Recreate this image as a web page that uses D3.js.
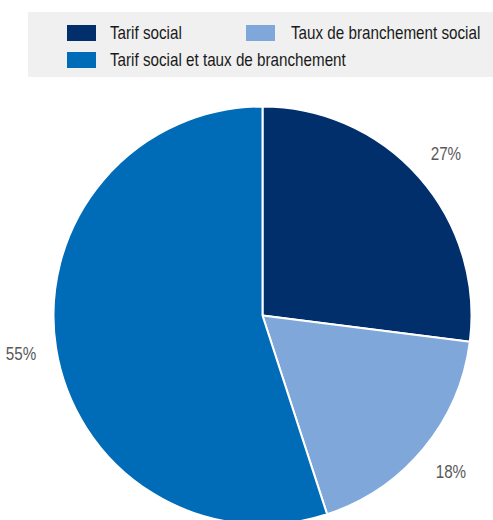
<!DOCTYPE html>
<html>
<head>
<meta charset="utf-8">
<script src="https://cdn.jsdelivr.net/npm/d3@7"></script>
<style>
  html, body { margin: 0; padding: 0; background: #ffffff; }
  svg { display: block; font-family: "Liberation Sans", Arial, sans-serif; }
</style>
</head>
<body>
<svg id="chart" width="493" height="520"></svg>
<script>
// Share of schemes by type of social measure
const categories = ["Tarif social", "Taux de branchement social", "Tarif social et taux de branchement"];
const shares = [27, 18, 55];
const colors = ["#002F6C", "#7FA7D9", "#006BB6"];

const svg = d3.select("#chart");
const W = 493, H = 520;
const narrow = 0.845; // condensed lettering

// Legend panel
const legend = svg.append("g");
legend.append("rect")
  .attr("x", 28).attr("y", 12)
  .attr("width", W - 28).attr("height", 65)
  .attr("fill", "#F0F0F0");

const legendPos = [
  { sx: 67, sy: 25, tx: 110, ty: 39 },
  { sx: 246, sy: 25, tx: 291, ty: 39 },
  { sx: 67, sy: 52, tx: 110, ty: 66 }
];
categories.forEach((c, i) => {
  const p = legendPos[i];
  legend.append("rect")
    .attr("x", p.sx).attr("y", p.sy)
    .attr("width", 29).attr("height", 16)
    .attr("fill", colors[i]);
  legend.append("text")
    .attr("transform", `translate(${p.tx},${p.ty}) scale(${narrow},1)`)
    .attr("font-size", 18)
    .attr("fill", "#1A1A1A")
    .text(c);
});

// Pie
const cx = 262.5, cy = 315.5, r = 209;
const pie = d3.pie().sort(null).value(d => d);
const arcs = pie(shares);
const arc = d3.arc().innerRadius(0).outerRadius(r);
const labelArc = d3.arc().innerRadius(r * 1.17).outerRadius(r * 1.17);

const g = svg.append("g").attr("transform", `translate(${cx},${cy})`);
g.selectAll("path.slice")
  .data(arcs)
  .join("path")
  .attr("class", "slice")
  .attr("d", arc)
  .attr("fill", (d, i) => colors[i])
  .attr("stroke", "#ffffff")
  .attr("stroke-width", 2)
  .attr("stroke-linejoin", "round");

g.selectAll("text.pct")
  .data(arcs)
  .join("text")
  .attr("class", "pct")
  .attr("transform", d => `translate(${labelArc.centroid(d)}) scale(${narrow},1)`)
  .attr("text-anchor", "middle")
  .attr("dy", "0.36em")
  .attr("font-size", 18)
  .attr("fill", "#595959")
  .text(d => d.data + "%");
</script>
</body>
</html>
